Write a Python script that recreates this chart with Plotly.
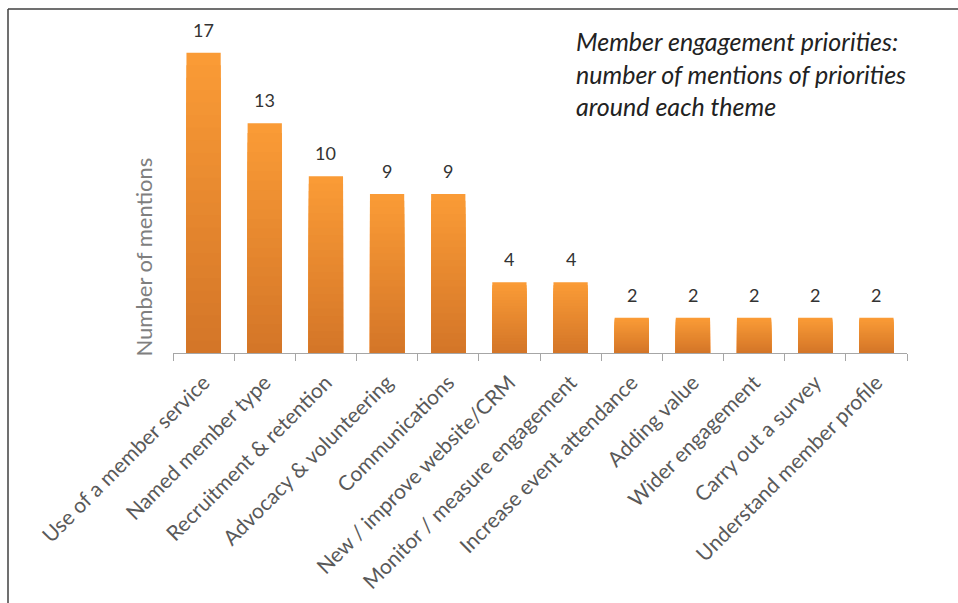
import plotly.graph_objects as go

categories = ["Use of a member service", "Named member type", "Recruitment & retention",
              "Advocacy & volunteering", "Communications", "New / improve website/CRM",
              "Monitor / measure engagement", "Increase event attendance", "Adding value",
              "Wider engagement", "Carry out a survey", "Understand member profile"]
mentions = [17, 13, 10, 9, 9, 4, 4, 2, 2, 2, 2, 2]

title_text = ("<i>Member engagement priorities:<br>number of mentions of priorities"
              "<br>around each theme</i>")
y_title = "Number of mentions"

W, H = 958, 603
L, R, T, B = 173, 907, 35, 353  # plot area pixel bounds

def px_x(p):
    return (p - L) / (R - L)

def px_y(p):
    return (B - p) / (B - T)

top_rgb = (250, 155, 54)
bot_rgb = (212, 118, 40)

fig = go.Figure()
N = 24
for k in range(N):
    f = 1 - k / N
    t = k / (N - 1)
    c = tuple(round(top_rgb[i] + (bot_rgb[i] - top_rgb[i]) * t) for i in range(3))
    fig.add_trace(go.Bar(
        x=categories, y=[v * f for v in mentions],
        marker=dict(color="rgb(%d,%d,%d)" % c, line=dict(width=0)),
        hoverinfo="skip" if k else None, showlegend=False,
    ))

for cat, v in zip(categories, mentions):
    fig.add_annotation(x=cat, y=v, text=str(v), showarrow=False, yanchor="bottom",
                       yshift=10, font=dict(family="Lato", size=18, color="#333333"))

fig.add_annotation(xref="paper", yref="paper", x=px_x(574), y=px_y(24), xanchor="left",
                   yanchor="top", align="left", text=title_text, showarrow=False,
                   font=dict(family="Lato", size=25, color="#222222"))

fig.add_annotation(xref="paper", yref="paper", x=px_x(143), y=px_y(359), xanchor="center",
                   yanchor="bottom", textangle=-90, text=y_title, showarrow=False,
                   font=dict(family="Lato", size=22, color="#7f7f7f"))

# chart border (left and top)
fig.add_shape(type="line", xref="paper", yref="paper", x0=px_x(8), x1=px_x(8),
              y0=px_y(9), y1=px_y(603), line=dict(color="#404040", width=1.5))
fig.add_shape(type="line", xref="paper", yref="paper", x0=px_x(8), x1=px_x(958),
              y0=px_y(9), y1=px_y(9), line=dict(color="#404040", width=1.5))

fig.update_layout(
    width=W, height=H, barmode="overlay", bargap=0.44,
    margin=dict(l=L, r=W - R, t=T, b=H - B, autoexpand=False),
    paper_bgcolor="white", plot_bgcolor="white",
    font=dict(family="Lato"),
)
fig.update_xaxes(type="category", tickangle=-45, tickson="boundaries", ticks="outside",
                 ticklen=7, tickcolor="#a6a6a6", showline=True, linecolor="#a6a6a6",
                 linewidth=1, ticklabelstandoff=8, automargin=False,
                 tickfont=dict(family="Lato", size=21, color="#595959"),
                 showgrid=False)
fig.update_yaxes(range=[0, 18], visible=False, showgrid=False)

fig.write_html("out.html")
